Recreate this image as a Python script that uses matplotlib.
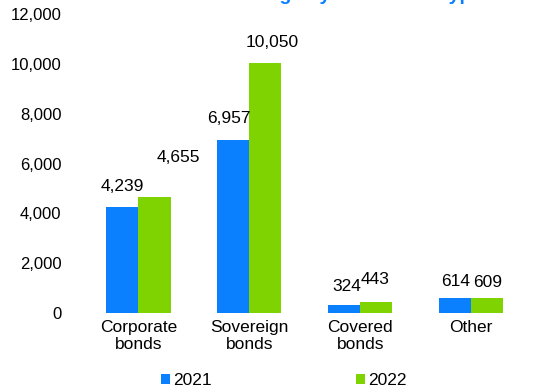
import matplotlib.pyplot as plt
import numpy as np

plt.rcParams['font.family'] = ['Liberation Sans', 'DejaVu Sans']

categories = ['Corporate\nbonds', 'Sovereign\nbonds', 'Covered\nbonds', 'Other']
v2021 = [4239, 6957, 324, 614]
v2022 = [4655, 10050, 443, 609]
yticks = [0, 2000, 4000, 6000, 8000, 10000, 12000]

blue = '#0A80FF'
green = '#7ED300'

fig = plt.figure(figsize=(5.42, 3.92), dpi=100)
ax = fig.add_axes([0.157, 0.2015, 0.825, 0.7625])

x = np.arange(len(categories))
w = 0.29
b1 = ax.bar(x - w/2, v2021, w, color=blue, label='2021')
b2 = ax.bar(x + w/2, v2022, w, color=green, label='2022')

# value labels (offsets in points, staggered like the original)
off1 = [(0, 10), (-3, 10), (2, 8), (0, 6)]
off2 = [(17, 23), (5, 9), (-1, 11), (0, 6)]
for i in range(len(x)):
    ax.annotate(f'{v2021[i]:,}', (x[i] - w/2, v2021[i]), xytext=off1[i],
                textcoords='offset points', ha='center', va='bottom', fontsize=12.5)
    ax.annotate(f'{v2022[i]:,}', (x[i] + w/2, v2022[i]), xytext=off2[i],
                textcoords='offset points', ha='center', va='bottom', fontsize=12.5)

ax.set_xlim(-0.48, 3.55)
ax.set_ylim(0, 12000)
ax.set_yticks(yticks)
ax.set_yticklabels([f'{t:,}' for t in yticks], fontsize=12)
ax.set_xticks(x)
ax.set_xticklabels(categories, fontsize=12.5, linespacing=1.15)
ax.tick_params(length=0, pad=17)
ax.tick_params(axis='x', pad=5)
for s in ax.spines.values():
    s.set_visible(False)

fig.legend(handles=[b1, b2], labels=['2021', '2022'], loc='lower center',
           bbox_to_anchor=(0.524, -0.03), ncol=2, frameon=False, fontsize=12.5,
           handlelength=0.5, handleheight=0.5, handletextpad=0.2, columnspacing=8.3)

# title, cut off at the top edge in the original
fig.text(0.89, 1.0, 'Holdings by instrument type', color=blue, fontsize=14,
         fontweight='bold', ha='right', va='baseline')

fig.savefig('out.png', dpi=100)
